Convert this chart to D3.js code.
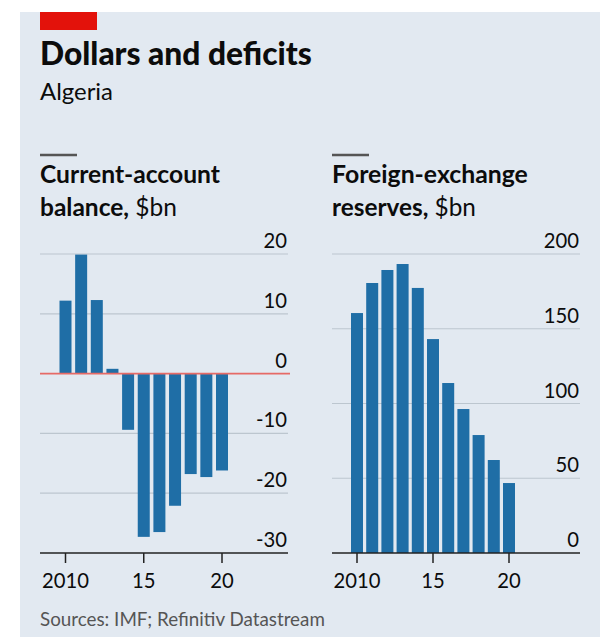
<!DOCTYPE html>
<html><head><meta charset="utf-8">
<script src="https://cdn.jsdelivr.net/npm/d3@7"></script>
<style>
html,body{margin:0;padding:0;background:#fff;}
svg{display:block;font-family:Lato,"Open Sans",sans-serif;}
</style></head>
<body>
<svg id="c" width="606" height="637"></svg>
<script>
const years = [2010,2011,2012,2013,2014,2015,2016,2017,2018,2019,2020];
const currentAccount = [12.2,19.9,12.3,0.8,-9.4,-27.3,-26.5,-22.1,-16.8,-17.3,-16.2];
const reserves = [160.5,180.6,189.3,193.3,177.3,143.1,113.7,96.3,78.9,62.2,46.8];
const caTicks = [20,10,0,-10,-20,-30];
const resTicks = [200,150,100,50,0];
const yearTicks = [2010,2015,2020];
const yearTickLabels = ["2010","15","20"];

const svg = d3.select("#c");
function fit(sel, w){
  const fs = +sel.attr("font-size");
  const len = sel.node().getComputedTextLength();
  sel.attr("font-size", fs*w/len);
  return sel;
}
svg.append("rect").attr("x",20).attr("y",12).attr("width",580).attr("height",625).attr("fill","#e2e9f1");
svg.append("rect").attr("x",40).attr("y",12).attr("width",57).attr("height",18).attr("fill","#e3120b");
fit(svg.append("text").attr("x",40).attr("y",65).attr("font-size",25).attr("font-weight",900).attr("fill","#0c0c0c").text("Dollars and deficits"),272);
fit(svg.append("text").attr("x",40).attr("y",100).attr("font-size",20).attr("fill","#0c0c0c").text("Algeria"),73);
fit(svg.append("text").attr("x",40).attr("y",626).attr("font-size",16.5).attr("fill","#555").text("Sources: IMF; Refinitiv Datastream"),285);

const probe = svg.append("text").attr("font-size",20).text("2010");
const numFs = 20*47/probe.node().getComputedTextLength();
probe.remove();

function panel(opt){
  const g = svg.append("g");
  g.append("line").attr("x1",opt.x0).attr("x2",opt.x0+37).attr("y1",155).attr("y2",155).attr("stroke","#555").attr("stroke-width",2.5);
  fit(g.append("text").attr("x",opt.x0).attr("y",183).attr("font-size",21).attr("font-weight",700).attr("fill","#0c0c0c").text(opt.t1),opt.w1);
  const t2 = g.append("text").attr("x",opt.x0).attr("y",216).attr("font-size",21).attr("fill","#0c0c0c");
  t2.append("tspan").attr("font-weight",700).text(opt.t2a);
  t2.append("tspan").text(opt.t2b);
  fit(t2,opt.w2);

  const y = d3.scaleLinear().domain(opt.domain).range([553,254]);
  const x = d3.scaleLinear().domain([2010,2020]).range([opt.xa,opt.xb]);
  opt.ticks.forEach(t=>{
    if(t!==opt.domain[0] && t!==0){
      g.append("line").attr("x1",opt.x0).attr("x2",opt.gx1).attr("y1",y(t)).attr("y2",y(t)).attr("stroke","#bcc6cf").attr("stroke-width",1.2);
    }
    g.append("text").attr("x",opt.gx1-1).attr("y",y(t)-6).attr("text-anchor","end").attr("font-size",numFs).attr("fill","#0c0c0c").text(t);
  });
  g.selectAll("rect.b").data(opt.values).enter().append("rect")
    .attr("x",(d,i)=>x(years[i])-6).attr("width",12)
    .attr("y",d=>y(Math.max(0,d))).attr("height",d=>Math.abs(y(d)-y(0)))
    .attr("fill","#1f6ea6");
  if(opt.domain[0]<0){
    g.append("line").attr("x1",opt.x0).attr("x2",opt.gx1+2).attr("y1",y(0)).attr("y2",y(0)).attr("stroke","#e66a66").attr("stroke-width",1.8);
  }
  g.append("line").attr("x1",opt.x0).attr("x2",opt.gx1).attr("y1",553).attr("y2",553).attr("stroke","#222").attr("stroke-width",1.5);
  yearTicks.forEach((t,i)=>{
    g.append("line").attr("x1",x(t)).attr("x2",x(t)).attr("y1",553).attr("y2",563).attr("stroke","#222").attr("stroke-width",1.5);
    g.append("text").attr("x",x(t)).attr("y",588).attr("text-anchor","middle").attr("font-size",numFs).attr("fill","#0c0c0c").text(yearTickLabels[i]);
  });
}
panel({x0:40,gx1:288,xa:65.5,xb:222,domain:[-30,20],ticks:caTicks,values:currentAccount,
  t1:"Current-account",t2a:"balance,",t2b:" $bn",w1:180,w2:137});
panel({x0:332,gx1:580,xa:357,xb:509,domain:[0,200],ticks:resTicks,values:reserves,
  t1:"Foreign-exchange",t2a:"reserves,",t2b:" $bn",w1:196,w2:144});
</script>
</body></html>
